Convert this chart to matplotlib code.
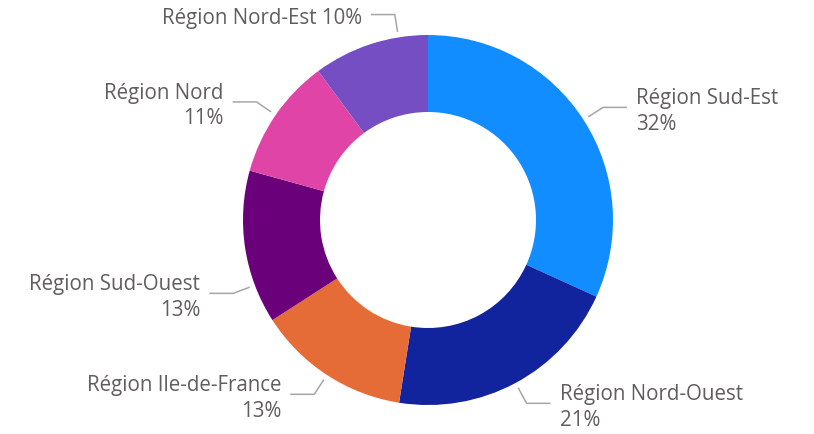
import numpy as np
import matplotlib.pyplot as plt

regions = ["Région Sud-Est", "Région Nord-Ouest", "Région Ile-de-France",
           "Région Sud-Ouest", "Région Nord", "Région Nord-Est"]
values = [31.8, 20.7, 13.4, 13.4, 10.6, 10.1]
colors = ["#118DFF", "#12239E", "#E66C37", "#6B007B", "#E044A7", "#744EC2"]
# small angle nudges (deg) on leader lines, as the original layout has
label_shift = [0, 0, 0, -12, 0, 9]
one_line = [False, False, False, False, False, True]

W, H = 814, 435
cx, cy = 428, H - 221
R = 185
ring = 77

fig = plt.figure(figsize=(W / 100, H / 100), dpi=100)
ax = fig.add_axes([0, 0, 1, 1])
wedges, _ = ax.pie(values, colors=colors, startangle=90, counterclock=False,
                   center=(cx, cy), radius=R,
                   wedgeprops=dict(width=ring, linewidth=0))
ax.set_xlim(0, W)
ax.set_ylim(0, H)
ax.set_aspect("equal")
ax.axis("off")

txt_col = "#605E5C"
line_col = "#A6A6A6"
total = sum(values)
start = 0.0
for i, (name, v) in enumerate(zip(regions, values)):
    mid = (start + v / 2) / total * 360 + label_shift[i]
    start += v
    t = np.radians(mid)
    s, c = np.sin(t), np.cos(t)
    x0, y0 = cx + R * 1.03 * s, cy + R * 1.03 * c
    x1, y1 = cx + R * 1.125 * s, cy + R * 1.125 * c
    side = 1 if s >= 0 else -1
    x2 = x1 + side * 24
    ax.plot([x0, x1, x2], [y0, y1, y1], color=line_col, lw=1.1,
            solid_capstyle="butt")
    pct = f"{round(v)}%"
    label = f"{name} {pct}" if one_line[i] else f"{name}\n{pct}"
    ax.text(x2 + side * 9, y1 - 3, label, ha="left" if side > 0 else "right",
            va="center", multialignment="left" if side > 0 else "right",
            fontsize=14.8, color=txt_col, family="Open Sans", linespacing=1.3)

fig.savefig("out.png", dpi=100)
